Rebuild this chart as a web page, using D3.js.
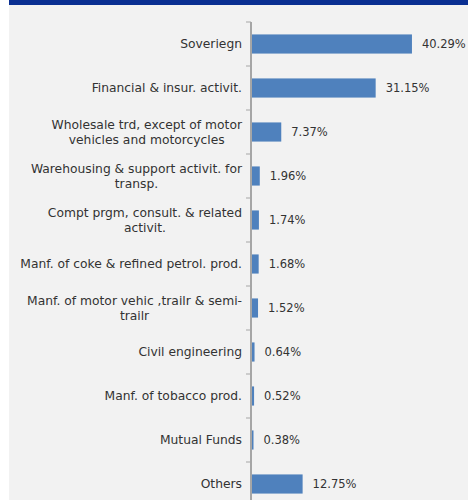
<!DOCTYPE html>
<html>
<head>
<meta charset="utf-8">
<script src="https://cdn.jsdelivr.net/npm/d3@7"></script>
<style>
  html, body { margin: 0; padding: 0; background: #ffffff; }
  svg { display: block; }
</style>
</head>
<body>
<svg id="chart" width="468" height="500"></svg>
<script>
// Sector exposure, share of portfolio (%)
const categories = [
  "Soveriegn",
  "Financial & insur. activit.",
  "Wholesale trd, except of motor\nvehicles and motorcycles",
  "Warehousing & support activit. for\ntransp.",
  "Compt prgm, consult. & related\nactivit.",
  "Manf. of coke & refined petrol. prod.",
  "Manf. of motor vehic ,trailr & semi-\ntrailr",
  "Civil engineering",
  "Manf. of tobacco prod.",
  "Mutual Funds",
  "Others"
];
const values = [40.29, 31.15, 7.37, 1.96, 1.74, 1.68, 1.52, 0.64, 0.52, 0.38, 12.75];
const valueLabels = ["40.29%", "31.15%", "7.37%", "1.96%", "1.74%", "1.68%", "1.52%", "0.64%", "0.52%", "0.38%", "12.75%"];

const svg = d3.select("#chart");
const W = 468, H = 500;

// panel background and title strip
svg.append("rect").attr("x", 9).attr("y", 0).attr("width", W - 9).attr("height", H).attr("fill", "#f2f2f2");
svg.append("rect").attr("x", 9).attr("y", 0).attr("width", W - 9).attr("height", 5).attr("fill", "#0a2f92");

const axisX = 251;
const plotTop = 22, band = 44;

const y = d3.scaleBand()
  .domain(d3.range(categories.length))
  .range([plotTop, plotTop + band * categories.length])
  .paddingInner(0.565)
  .paddingOuter(0.2825);

const x = d3.scaleLinear().domain([0, 45]).range([axisX + 1, axisX + 1 + 3.97 * 45]);

const font = "'Century Gothic', 'URW Gothic', 'DejaVu Sans', sans-serif";

// bars
svg.append("g").selectAll("rect")
  .data(values)
  .join("rect")
  .attr("x", x(0))
  .attr("y", (d, i) => y(i))
  .attr("width", d => x(d) - x(0))
  .attr("height", y.bandwidth())
  .attr("fill", "#4f81bd");

// value labels
svg.append("g").selectAll("text")
  .data(values)
  .join("text")
  .attr("x", d => x(d) + 10)
  .attr("y", (d, i) => y(i) + y.bandwidth() / 2)
  .attr("dy", "0.35em")
  .attr("font-family", font)
  .attr("font-size", 11.5)
  .attr("fill", "#333333")
  .text((d, i) => valueLabels[i]);

// category axis: line with ticks at band boundaries
const axis = svg.append("g");
axis.append("line")
  .attr("x1", axisX).attr("x2", axisX)
  .attr("y1", plotTop).attr("y2", H + 10)
  .attr("stroke", "#a6a6a6").attr("stroke-width", 2);
axis.selectAll("line.tick")
  .data(d3.range(categories.length + 1))
  .join("line")
  .attr("class", "tick")
  .attr("x1", axisX - 5).attr("x2", axisX)
  .attr("y1", i => plotTop + i * band).attr("y2", i => plotTop + i * band)
  .attr("stroke", "#a6a6a6").attr("stroke-width", 1);

// category labels, multi-line labels centred on their widest line
const labelRight = 242;
const lineH = 15.5;
categories.forEach((c, i) => {
  const lines = c.split("\n");
  const cy = y(i) + y.bandwidth() / 2;
  const g = svg.append("g");
  const texts = lines.map((ln, k) => g.append("text")
    .attr("y", cy + (k - (lines.length - 1) / 2) * lineH)
    .attr("dy", "0.35em")
    .attr("font-family", font)
    .attr("font-size", 12.3)
    .attr("fill", "#333333")
    .attr("text-anchor", "middle")
    .text(ln));
  const w = d3.max(texts, t => t.node().getComputedTextLength());
  texts.forEach(t => t.attr("x", labelRight - w / 2));
});
</script>
</body>
</html>
